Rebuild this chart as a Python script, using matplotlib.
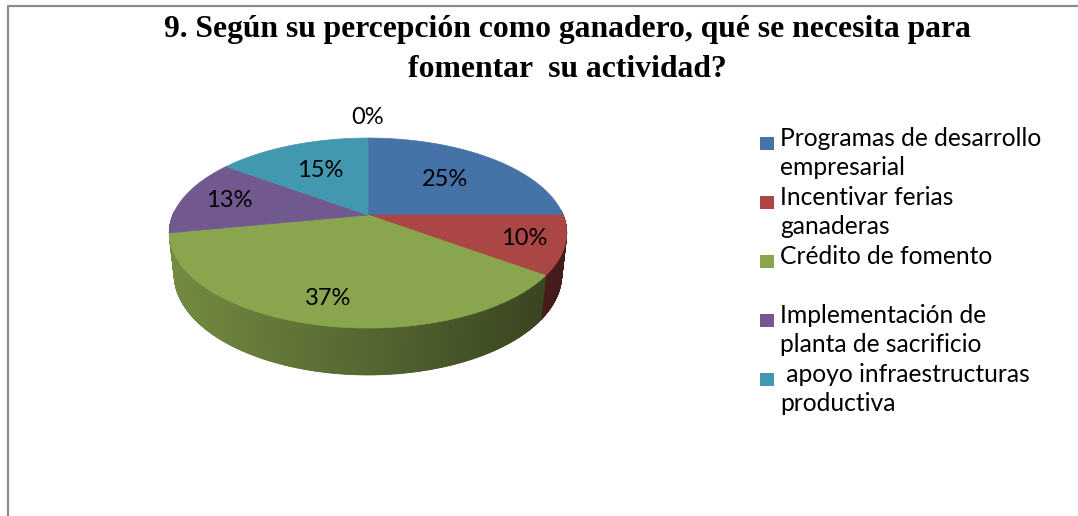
import numpy as np
import matplotlib.pyplot as plt
from matplotlib.patches import Polygon, Rectangle
from matplotlib.collections import PolyCollection
from matplotlib.colors import to_rgb

# data
categories = ["Programas de desarrollo\nempresarial",
              "Incentivar ferias\nganaderas",
              "Crédito de fomento",
              "Implementación de\nplanta de sacrificio",
              " apoyo infraestructuras\nproductiva"]
values = [25, 10, 37, 13, 15, 0]
pct_labels = ["25%", "10%", "37%", "13%", "15%", "0%"]
colors = ["#4572A7", "#AA4643", "#89A54E", "#71588F", "#4198AF", "#DB843D"]
title_lines = ["9. Según su percepción como ganadero, qué se necesita para",
               "fomentar  su actividad?"]

# 3d view of the pie (perspective)
phi = np.radians(28)
D = 4.65
F = 907.0
H = 0.243
cx, cy = 368, 215


def project(X, Y, Z):
    dist = D + Y * np.cos(phi) - Z * np.sin(phi)
    u = F * X / dist
    v = F * (Y * np.sin(phi) + Z * np.cos(phi)) / dist
    return cx + u, cy - v


fig = plt.figure(figsize=(10.78, 5.16), dpi=100)
ax = fig.add_axes([0, 0, 1, 1])
ax.set_xlim(0, 1078)
ax.set_ylim(516, 0)
ax.axis("off")

# chart frame (only left and top visible)
ax.plot([8, 8, 1078], [516, 6, 6], color="#8c8c8c", lw=1.6, solid_capstyle="butt")

total = sum(values)
bounds = np.concatenate([[0], np.cumsum(values)]) / total * 360.0

# side wall strips, shaded darker towards the right
theta = np.linspace(0, 360, 1441)
polys, cols, depth = [], [], []
for t0, t1 in zip(theta[:-1], theta[1:]):
    tm = np.radians((t0 + t1) / 2)
    if np.cos(tm) > 0.05:
        continue
    idx = np.searchsorted(bounds, (t0 + t1) / 2) - 1
    idx = min(max(idx, 0), len(values) - 1)
    a0, a1 = np.radians(t0), np.radians(t1)
    xs = [np.sin(a0), np.sin(a1), np.sin(a1), np.sin(a0)]
    ys = [np.cos(a0), np.cos(a1), np.cos(a1), np.cos(a0)]
    zs = [0, 0, -H, -H]
    px, py = project(np.array(xs), np.array(ys), np.array(zs))
    u = px.mean() - cx
    shade = np.clip(0.62 - 0.23 * u / 200, 0.35, 0.9)
    c = np.array(to_rgb(colors[idx])) * shade
    polys.append(np.column_stack([px, py]))
    cols.append(c)
    depth.append(np.cos(tm))
order = np.argsort(depth)[::-1]
wall = PolyCollection([polys[i] for i in order], facecolors=[cols[i] for i in order],
                      edgecolors=[cols[i] for i in order], linewidths=0.6)
ax.add_collection(wall)

# top faces
for i, v in enumerate(values):
    if v == 0:
        continue
    a = np.radians(np.linspace(bounds[i], bounds[i + 1], 200))
    X = np.concatenate([[0], np.sin(a)])
    Y = np.concatenate([[0], np.cos(a)])
    px, py = project(X, Y, np.zeros_like(X))
    ax.add_patch(Polygon(np.column_stack([px, py]), closed=True,
                         facecolor=colors[i], edgecolor=colors[i], lw=0.5))

# percentage labels
label_r = [0.6, 0.8, 0.8, 0.75, 0.6, 1.34]
for i, lab in enumerate(pct_labels):
    mid = np.radians((bounds[i] + bounds[i + 1]) / 2)
    px, py = project(label_r[i] * np.sin(mid), label_r[i] * np.cos(mid), 0.0)
    ax.text(px, py, lab, ha="center", va="center", fontsize=17,
            family="Lato", color="black")

# legend
for i, cat in enumerate(categories):
    base = 146 + i * 59
    ax.add_patch(Rectangle((760, base - 9), 14, 13, facecolor=colors[i], edgecolor="none"))
    for k, line in enumerate(cat.split("\n")):
        ax.text(780, base + k * 29, line, ha="left", va="baseline", fontsize=17.7,
                family="Lato", color="black")

for k, line in enumerate(title_lines):
    ax.text(567, 37 + k * 40, line, ha="center", va="baseline", fontsize=22.8,
            fontweight="bold", family="Liberation Serif")

fig.savefig("out.png", dpi=100)
